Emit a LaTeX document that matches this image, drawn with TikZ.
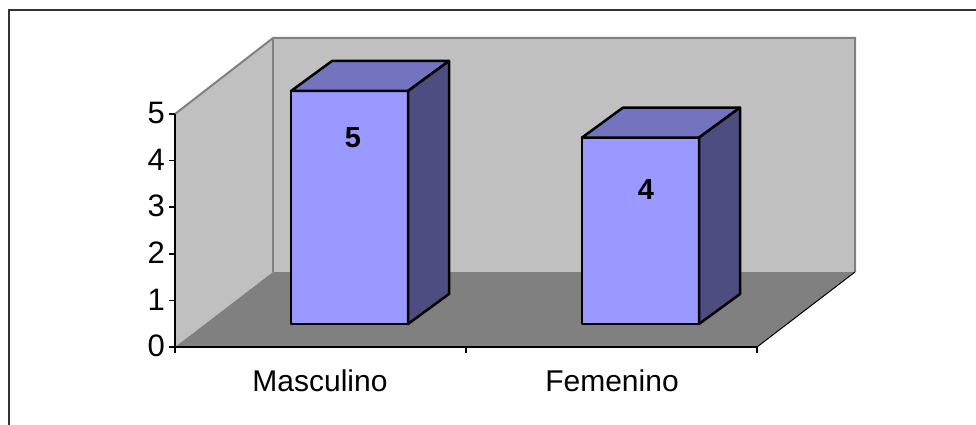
\documentclass[tikz,border=0pt]{standalone}
\usepackage{fontspec}
\setmainfont{Liberation Sans}
\usepackage{tikz}

\definecolor{wall}{HTML}{C0C0C0}
\definecolor{floorgray}{HTML}{808080}
\definecolor{barfront}{HTML}{9999FF}
\definecolor{bartop}{HTML}{7373BF}
\definecolor{barside}{HTML}{4D4D80}
\definecolor{framegray}{HTML}{333333}

\begin{document}
\begin{tikzpicture}[x=1pt,y=-1pt,
    bar/.style={draw=black, line width=2.5pt, line join=round},
    edge/.style={draw=floorgray, line width=2pt},
    ticklabel/.style={font=\fontsize{31}{36}\selectfont, anchor=east, inner sep=0pt},
    catlabel/.style={font=\fontsize{30}{36}\selectfont, inner sep=0pt},
    vallabel/.style={font=\bfseries\fontsize{29}{34}\selectfont, inner sep=0pt}]
    \useasboundingbox (0,0) rectangle (976,425);
    % frame
    \draw [framegray, line width=2pt] (8.5,425) -- (8.5,10.5) -- (976,10.5);
    % walls and floor
    \fill [wall] (175,114) -- (273,38) -- (273,272) -- (175,347) -- cycle;
    \fill [wall] (273,38) rectangle (855,272);
    \fill [floorgray] (175,347) -- (273,272) -- (855,272) -- (757,347) -- cycle;
    \draw [edge] (175,114) -- (273,38) -- (855,38) -- (855,272);
    \draw [edge] (273,38) -- (273,272);
    \draw [black, line width=1pt] (757,347) -- (855,272);
    % axes
    \draw [black, line width=1.5pt] (175,114) -- (175,347) -- (757,347);
    \foreach \v in {0,...,5} {
        \draw [black, line width=1.5pt] (169,{347-46.6*\v}) -- (175,{347-46.6*\v});
        \node [ticklabel] (t\v) at (165,{346-46.6*\v}) {\v};
    }
    \foreach \x in {175,466,757}
        \draw [black, line width=1.5pt] (\x,347) -- (\x,353);
    % bars
    \foreach \x/\h in {291/5,582/4} {
        \pgfmathsetmacro{\top}{324-46.6*\h}
        \draw [bar, fill=barfront] (\x,324) rectangle ({\x+117},\top);
        \draw [bar, fill=bartop] (\x,\top) -- ({\x+41},{\top-30}) -- ({\x+158},{\top-30}) -- ({\x+117},\top) -- cycle;
        \draw [bar, fill=barside] ({\x+117},324) -- ({\x+117},\top) -- ({\x+158},{\top-30}) -- ({\x+158},294) -- cycle;
    }
    \node [vallabel] (vm) at (353,137.5) {5};
    \node [vallabel] (vf) at (646,190) {4};
    \node [catlabel] (masc) at (320,381) {Masculino};
    \node [catlabel] (fem) at (612,381) {Femenino};
\end{tikzpicture}
\end{document}
